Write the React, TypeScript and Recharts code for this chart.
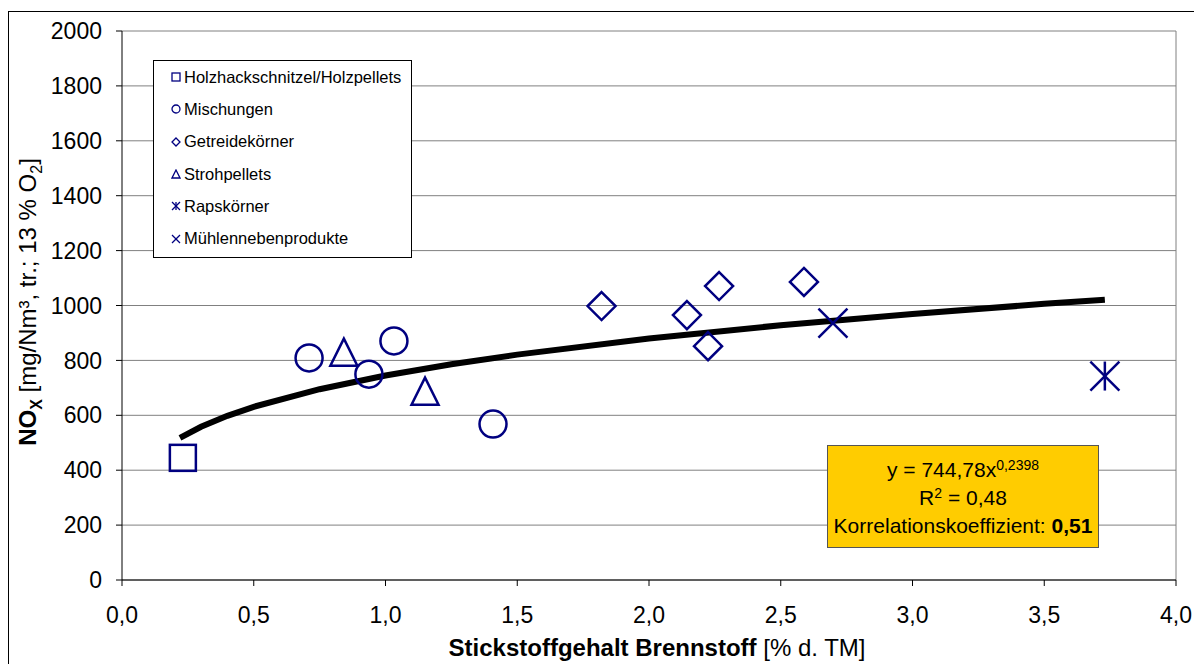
import { ScatterChart, Scatter, XAxis, YAxis, CartesianGrid, ReferenceLine } from "recharts";

const holz = [{ x: 0.231, y: 445 }];
const mischungen = [
	{ x: 0.71, y: 809 },
	{ x: 0.937, y: 750 },
	{ x: 1.032, y: 871 },
	{ x: 1.408, y: 568 },
];
const getreide = [
	{ x: 1.82, y: 998 },
	{ x: 2.144, y: 965 },
	{ x: 2.224, y: 852 },
	{ x: 2.266, y: 1071 },
	{ x: 2.588, y: 1086 },
];
const stroh = [
	{ x: 0.842, y: 830 },
	{ x: 1.15, y: 688 },
];
const raps = [{ x: 3.73, y: 743 }];
const muehle = [{ x: 2.698, y: 936 }];
const trend = [
	{ x: 0.22, y: 518 },
	{ x: 0.3, y: 558 },
	{ x: 0.4, y: 598 },
	{ x: 0.5, y: 631 },
	{ x: 0.75, y: 695 },
	{ x: 1.0, y: 745 },
	{ x: 1.25, y: 786 },
	{ x: 1.5, y: 821 },
	{ x: 2.0, y: 880 },
	{ x: 2.5, y: 928 },
	{ x: 3.0, y: 969 },
	{ x: 3.5, y: 1006 },
	{ x: 3.73, y: 1021 },
];
const xTicks = [0, 0.5, 1, 1.5, 2, 2.5, 3, 3.5, 4];
const yTicks = [0, 200, 400, 600, 800, 1000, 1200, 1400, 1600, 1800, 2000];
const legendNames = [
	"Holzhackschnitzel/Holzpellets",
	"Mischungen",
	"Getreidekörner",
	"Strohpellets",
	"Rapskörner",
	"Mühlennebenprodukte",
];

const NAVY = "#000080";
const FONT = "'Liberation Sans', Arial, sans-serif";

const marker = (kind: string, s: number, sw: number) => (props: any) => {
	const { cx, cy } = props;
	if (cx == null || cy == null) return <g />;
	const h = s / 2;
	const common = { fill: "none", stroke: NAVY, strokeWidth: sw };
	if (kind === "square") return <rect x={cx - h} y={cy - h} width={s} height={s} {...common} />;
	if (kind === "circle") return <circle cx={cx} cy={cy} r={h} {...common} />;
	if (kind === "diamond")
		return <polygon points={`${cx},${cy - h} ${cx + h},${cy} ${cx},${cy + h} ${cx - h},${cy}`} {...common} />;
	if (kind === "triangle")
		return <polygon points={`${cx},${cy - h} ${cx + h},${cy + h} ${cx - h},${cy + h}`} {...common} />;
	if (kind === "x")
		return (
			<g {...common}>
				<line x1={cx - h} y1={cy - h} x2={cx + h} y2={cy + h} />
				<line x1={cx - h} y1={cy + h} x2={cx + h} y2={cy - h} />
			</g>
		);
	// asterisk
	return (
		<g {...common}>
			<line x1={cx - h} y1={cy - h} x2={cx + h} y2={cy + h} />
			<line x1={cx - h} y1={cy + h} x2={cx + h} y2={cy - h} />
			<line x1={cx} y1={cy - h} x2={cx} y2={cy + h} />
		</g>
	);
};

const kinds = ["square", "circle", "diamond", "triangle", "asterisk", "x"];

const LegendIcon = ({ kind }: { kind: string }) => (
	<svg width={10} height={10} style={{ marginRight: 3, flexShrink: 0 }}>
		{marker(kind, 8, 1.3)({ cx: 5, cy: 5 })}
	</svg>
);

const fmt = (v: number) => v.toFixed(1).replace(".", ",");

const App = () => {
	return (
		<div style={{ position: "relative", width: 1187, height: 656, marginTop: 3, fontFamily: FONT }}>
			<div
				style={{
					position: "absolute",
					left: 0,
					top: 0,
					width: 1187,
					height: 656,
					border: "1px solid #000",
					boxSizing: "border-box",
				}}
			/>
			<div style={{ position: "absolute", left: 0, top: 0 }}>
				<ScatterChart width={1187} height={656} margin={{ top: 20, right: 19, bottom: 27, left: 34 }}>
					<CartesianGrid vertical={false} stroke="#808080" />
					<ReferenceLine x={4} stroke="#808080" />
					<XAxis
						type="number"
						dataKey="x"
						domain={[0, 4]}
						ticks={xTicks}
						tickFormatter={fmt}
						height={60}
						stroke="#000"
						tickSize={6}
						tickMargin={21}
						tick={{ fill: "#000", fontSize: 23, fontFamily: FONT }}
						allowDataOverflow
					/>
					<YAxis
						type="number"
						dataKey="y"
						domain={[0, 2000]}
						ticks={yTicks}
						width={80}
						stroke="#000"
						tickSize={6}
						tickMargin={14}
						tick={{ fill: "#000", fontSize: 23, fontFamily: FONT }}
					/>
					<Scatter
						data={trend}
						line={{ stroke: "#000", strokeWidth: 6 }}
						lineType="joint"
						shape={() => <g />}
						isAnimationActive={false}
					/>
					<Scatter data={holz} shape={marker("square", 26, 2.5)} isAnimationActive={false} />
					<Scatter data={mischungen} shape={marker("circle", 27, 2.5)} isAnimationActive={false} />
					<Scatter data={getreide} shape={marker("diamond", 28, 2.5)} isAnimationActive={false} />
					<Scatter data={stroh} shape={marker("triangle", 27, 2.5)} isAnimationActive={false} />
					<Scatter data={raps} shape={marker("asterisk", 29, 2.5)} isAnimationActive={false} />
					<Scatter data={muehle} shape={marker("x", 29, 2.5)} isAnimationActive={false} />
				</ScatterChart>
			</div>

			{/* legend */}
			<div
				style={{
					position: "absolute",
					left: 145,
					top: 49,
					width: 259,
					height: 198,
					border: "1px solid #000",
					background: "#fff",
					boxSizing: "border-box",
					paddingTop: 0,
				}}
			>
				{legendNames.map((n, i) => (
					<div
						key={n}
						style={{
							display: "flex",
							alignItems: "center",
							height: 32.3,
							paddingLeft: 17,
							fontSize: 16.5,
							color: "#000",
							whiteSpace: "nowrap",
						}}
					>
						<LegendIcon kind={kinds[i]} />
						<span>{n}</span>
					</div>
				))}
			</div>

			{/* regression box */}
			<div
				style={{
					position: "absolute",
					left: 819,
					top: 434,
					width: 272,
					height: 103,
					background: "#FFCC00",
					border: "1px solid #555",
					boxSizing: "border-box",
					textAlign: "center",
					fontSize: 21,
					lineHeight: "28px",
					paddingTop: 10,
					color: "#000",
					whiteSpace: "nowrap",
				}}
			>
				<div>
					y = 744,78x<sup style={{ fontSize: 14, verticalAlign: "7px", lineHeight: 0 }}>0,2398</sup>
				</div>
				<div>
					R<sup style={{ fontSize: 14, verticalAlign: "7px", lineHeight: 0 }}>2</sup> = 0,48
				</div>
				<div>
					Korrelationskoeffizient: <b>0,51</b>
				</div>
			</div>

			{/* y axis title */}
			<div
				style={{
					position: "absolute",
					left: 20,
					top: 291,
					transform: "translate(-50%, -50%) rotate(-90deg)",
					whiteSpace: "nowrap",
					fontSize: 24,
					color: "#000",
				}}
			>
				<b>
					NO<sub style={{ fontSize: 16, lineHeight: 0 }}>X</sub>
				</b>{" "}
				[mg/Nm³, tr.; 13 % O<sub style={{ fontSize: 16, lineHeight: 0 }}>2</sub>]
			</div>

			{/* x axis title */}
			<div
				style={{
					position: "absolute",
					left: 649,
					top: 637,
					transform: "translate(-50%, -50%)",
					whiteSpace: "nowrap",
					fontSize: 24,
					color: "#000",
				}}
			>
				<b>Stickstoffgehalt Brennstoff</b> [% d. TM]
			</div>
		</div>
	);
};

export default App;
